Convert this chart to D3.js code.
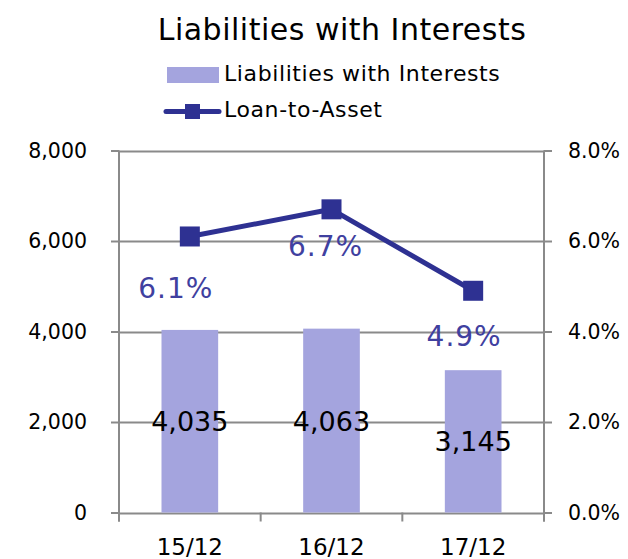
<!DOCTYPE html>
<html>
<head>
<meta charset="utf-8">
<script src="https://cdn.jsdelivr.net/npm/d3@7"></script>
<style>
  body { margin: 0; background: #fff; }
  svg { display: block; font-family: "DejaVu Sans", Verdana, sans-serif; }
</style>
</head>
<body>
<svg></svg>
<script>
const width = 628;
const height = 559;

// данные
const periods = ["15/12", "16/12", "17/12"];
const liabilities = [4035, 4063, 3145];
const loanToAsset = [0.061, 0.067, 0.049];
const leftTicks = [0, 2000, 4000, 6000, 8000];
const rightTicks = [0, 0.02, 0.04, 0.06, 0.08];

// смещения подписей процентов (как в исходнике)
const pctShift = [[-14, 62], [-6, 47], [-9, 55]];

const barColor = "#a4a4de";
const lineColor = "#2e3192";
const labelColor = "#40409f";
const gridColor = "#8a8a8a";

const plot = { left: 119, right: 544, top: 150.5, bottom: 512.5 };

let svg = d3.select("svg")
    .attr("width", width)
    .attr("height", height);

// шкалы
let scX = d3.scaleBand()
    .domain(periods)
    .range([plot.left, plot.right]);
let scY = d3.scaleLinear()
    .domain([0, 8000])
    .range([plot.bottom, plot.top]);
let scY2 = d3.scaleLinear()
    .domain([0, 0.08])
    .range([plot.bottom, plot.top]);

// заголовок
svg.append("text")
    .attr("x", 342)
    .attr("y", 40)
    .attr("text-anchor", "middle")
    .style("font-size", "30px")
    .style("letter-spacing", "0.5px")
    .style("fill", "#000")
    .text("Liabilities with Interests");

// легенда
svg.append("rect")
    .attr("x", 167).attr("y", 67)
    .attr("width", 52).attr("height", 16)
    .style("fill", barColor);
svg.append("text")
    .attr("x", 224).attr("y", 81)
    .style("font-size", "22px")
    .style("letter-spacing", "0.6px")
    .text("Liabilities with Interests");
svg.append("line")
    .attr("x1", 166).attr("x2", 219)
    .attr("y1", 111.5).attr("y2", 111.5)
    .style("stroke", lineColor)
    .style("stroke-width", 5)
    .style("stroke-linecap", "round");
svg.append("rect")
    .attr("x", 185).attr("y", 104)
    .attr("width", 15).attr("height", 15)
    .style("fill", lineColor);
svg.append("text")
    .attr("x", 224).attr("y", 117)
    .style("font-size", "22px")
    .style("letter-spacing", "0.6px")
    .text("Loan-to-Asset");

// сетка
svg.append("g")
    .selectAll("line")
    .data(leftTicks)
    .enter()
    .append("line")
    .attr("x1", plot.left).attr("x2", plot.right)
    .attr("y1", d => Math.round(scY(d)) + 0.5)
    .attr("y2", d => Math.round(scY(d)) + 0.5)
    .style("stroke", gridColor)
    .style("stroke-width", 2);

// столбцы
svg.append("g")
    .selectAll("rect")
    .data(liabilities)
    .enter()
    .append("rect")
    .attr("x", (d, i) => scX(periods[i]) + scX.bandwidth() * 0.3)
    .attr("width", scX.bandwidth() * 0.4)
    .attr("y", d => scY(d))
    .attr("height", d => scY(0) - scY(d))
    .style("fill", barColor);

// оси
let axisL = d3.axisLeft(scY)
    .tickValues(leftTicks)
    .tickSize(8)
    .tickPadding(24)
    .tickFormat(d3.format(","));
let gL = svg.append("g")
    .attr("transform", `translate(${plot.left}, 0)`)
    .call(axisL);

let axisR = d3.axisRight(scY2)
    .tickValues(rightTicks)
    .tickSize(8)
    .tickPadding(16)
    .tickFormat(d3.format(".1%"));
let gR = svg.append("g")
    .attr("transform", `translate(${plot.right}, 0)`)
    .call(axisR);

[gL, gR].forEach(g => {
    g.select(".domain").remove();
    g.selectAll("line")
        .style("stroke", gridColor)
        .style("stroke-width", 2);
    g.selectAll("text")
        .style("font-size", "20.5px")
        .style("font-family", "DejaVu Sans, sans-serif")
        .style("fill", "#000");
});

// нижние засечки и подписи категорий
let bounds = [plot.left].concat(periods.map(p => scX(p) + scX.bandwidth()));
let gX = svg.append("g")
    .attr("transform", `translate(0, ${plot.bottom})`);
gX.selectAll("line")
    .data(bounds)
    .enter()
    .append("line")
    .attr("x1", d => d).attr("x2", d => d)
    .attr("y1", 0).attr("y2", 9)
    .style("stroke", gridColor)
    .style("stroke-width", 2);
gX.selectAll("text")
    .data(periods)
    .enter()
    .append("text")
    .attr("x", d => scX(d) + scX.bandwidth() / 2)
    .attr("y", 42)
    .attr("text-anchor", "middle")
    .style("font-size", "23px")
    .style("fill", "#000")
    .text(d => d);

// вертикальные оси
[plot.left, plot.right].forEach(x => {
    svg.append("line")
        .attr("x1", x).attr("x2", x)
        .attr("y1", plot.top).attr("y2", plot.bottom + 9)
        .style("stroke", gridColor)
        .style("stroke-width", 2);
});

// подписи столбцов
svg.append("g")
    .selectAll("text")
    .data(liabilities)
    .enter()
    .append("text")
    .attr("x", (d, i) => scX(periods[i]) + scX.bandwidth() / 2)
    .attr("y", d => (scY(d) + scY(0)) / 2 + 10)
    .attr("text-anchor", "middle")
    .style("font-size", "27px")
    .style("fill", "#000")
    .text(d => d3.format(",")(d));

// линия
let cx = (d, i) => scX(periods[i]) + scX.bandwidth() / 2;
svg.append("path")
    .datum(loanToAsset)
    .attr("d", d3.line().x(cx).y(d => scY2(d)))
    .style("fill", "none")
    .style("stroke", lineColor)
    .style("stroke-width", 5)
    .style("stroke-linejoin", "round");
svg.append("g")
    .selectAll("rect")
    .data(loanToAsset)
    .enter()
    .append("rect")
    .attr("x", (d, i) => cx(d, i) - 10)
    .attr("y", d => scY2(d) - 10)
    .attr("width", 20)
    .attr("height", 20)
    .style("fill", lineColor);

// подписи линии
svg.append("g")
    .selectAll("text")
    .data(loanToAsset)
    .enter()
    .append("text")
    .attr("x", (d, i) => cx(d, i) + pctShift[i][0])
    .attr("y", (d, i) => scY2(d) + pctShift[i][1])
    .attr("text-anchor", "middle")
    .style("font-size", "28px")
    .style("letter-spacing", "1px")
    .style("fill", labelColor)
    .text(d => d3.format(".1%")(d));
</script>
</body>
</html>
